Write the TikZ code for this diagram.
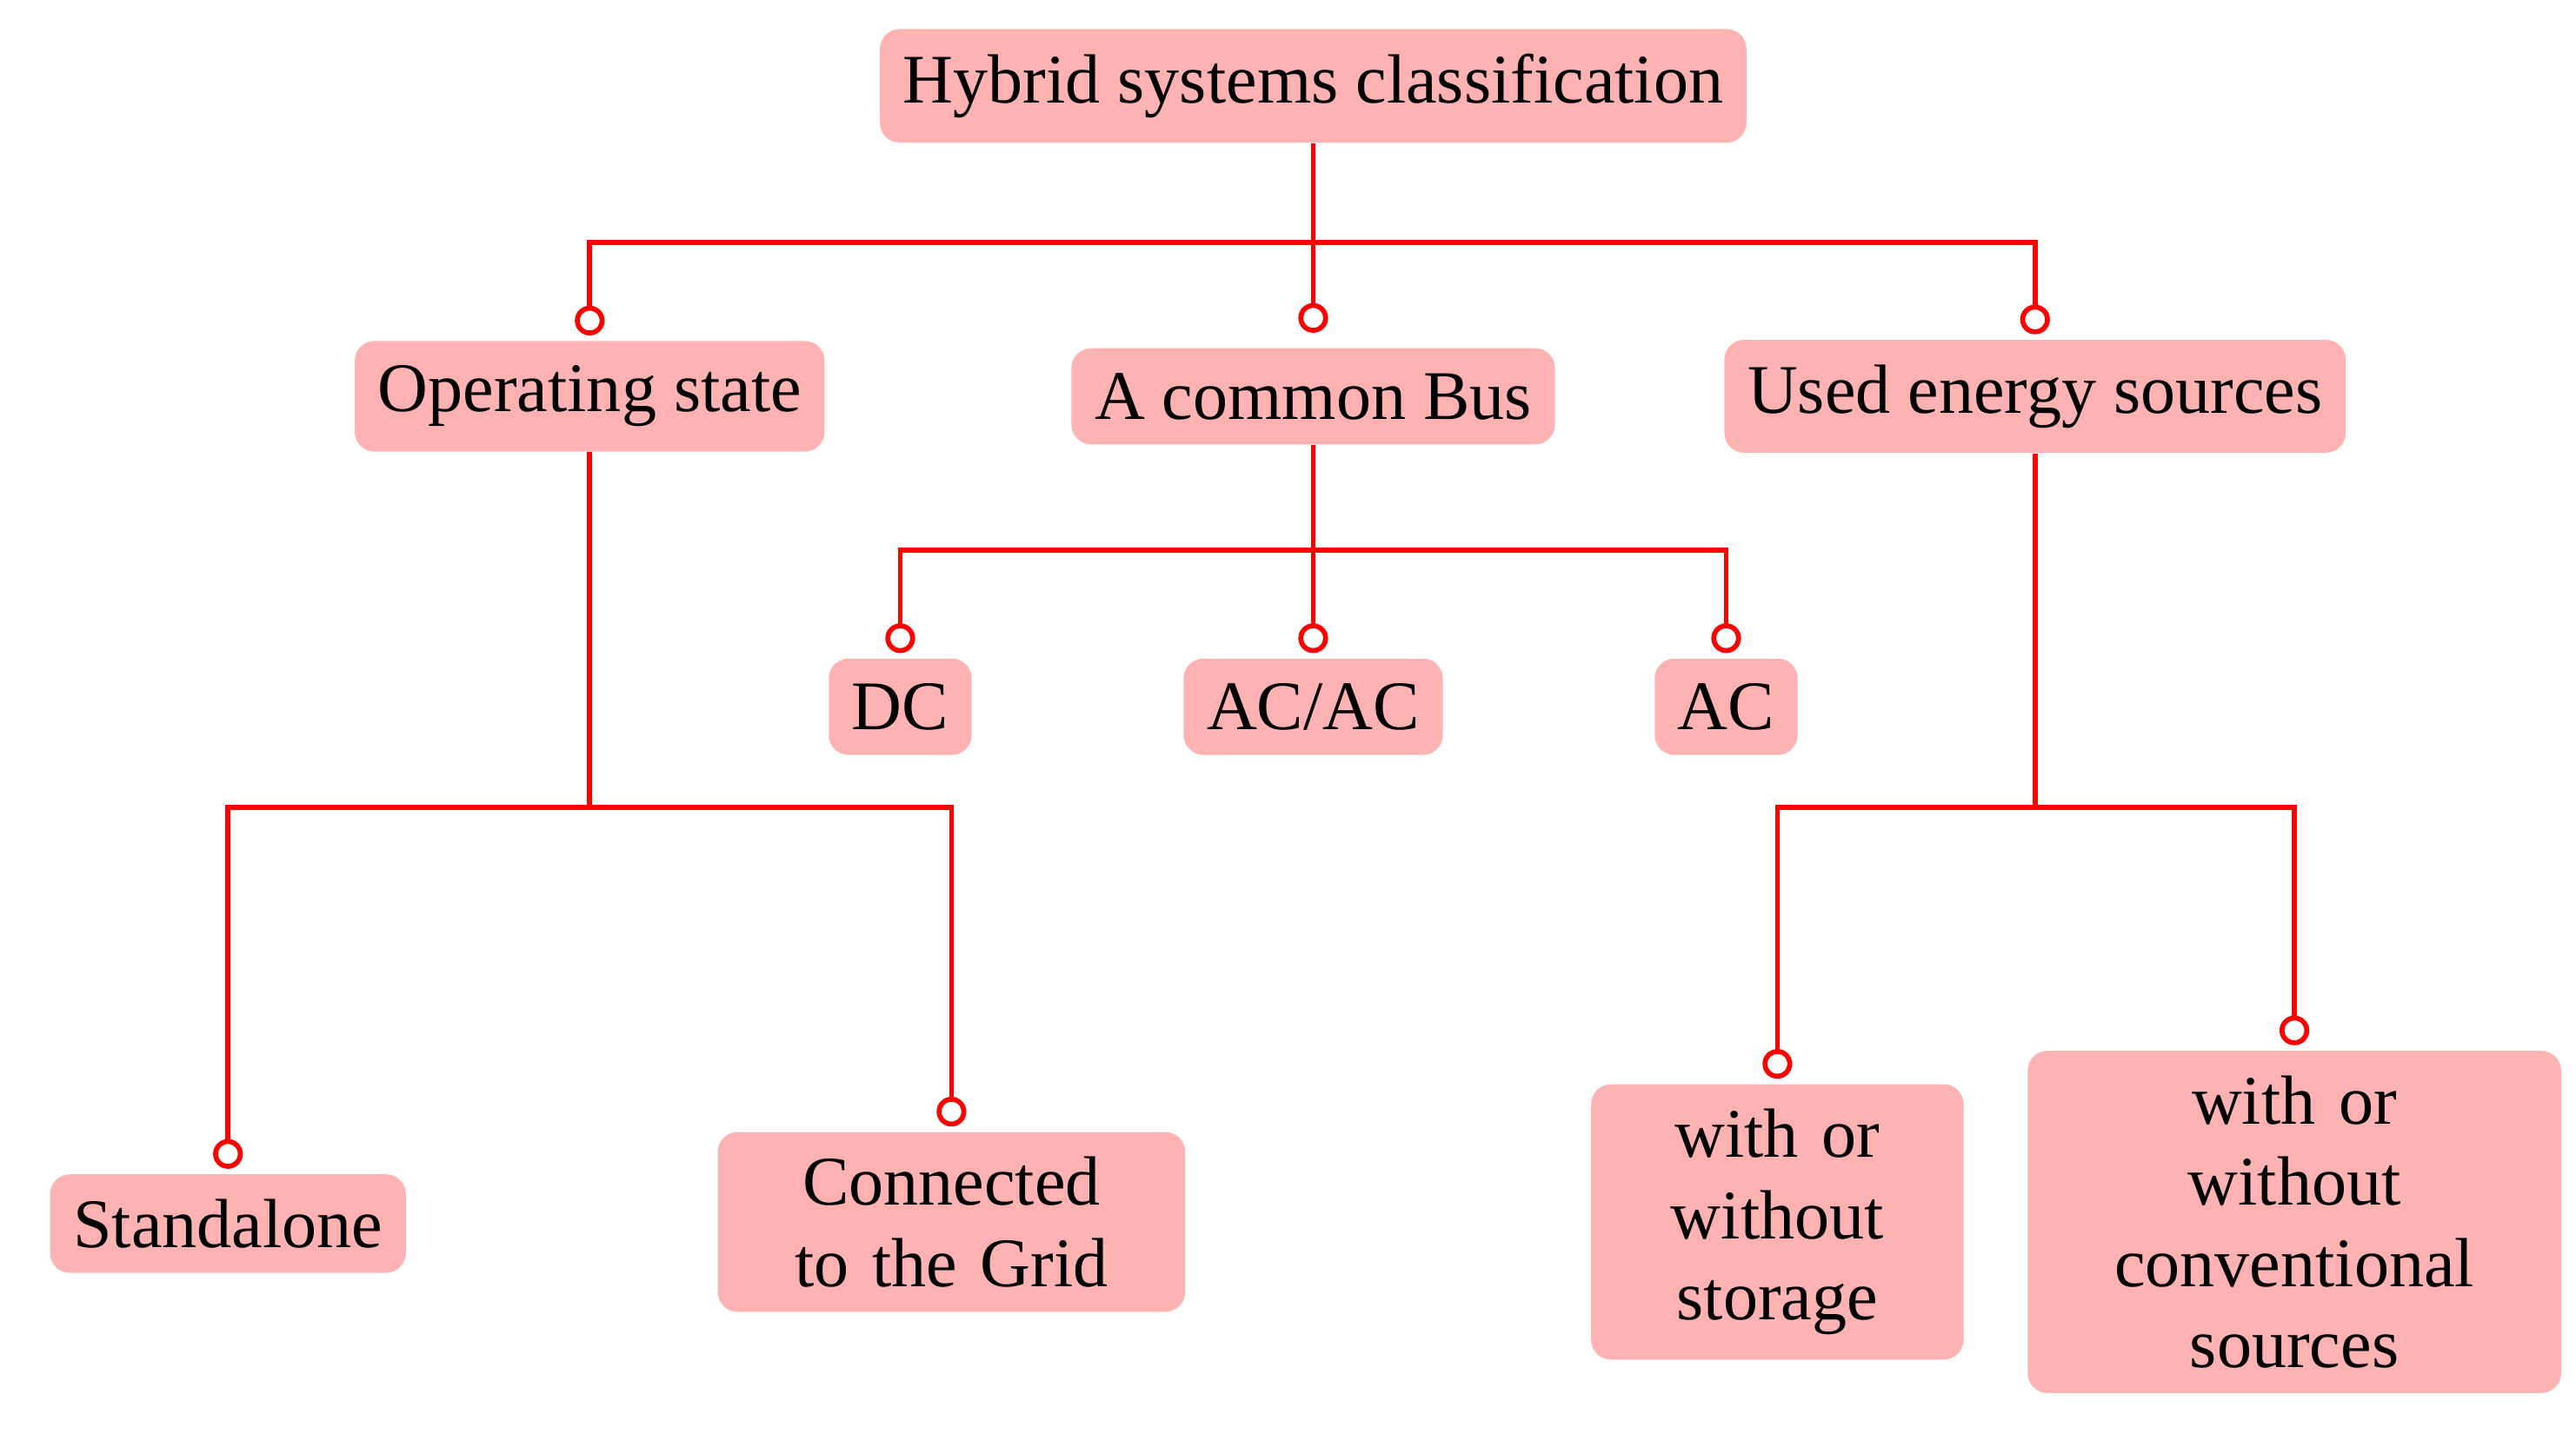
\documentclass[tikz,border=0pt]{standalone}
\usepackage{fontspec}
\setmainfont{Liberation Serif}
\usetikzlibrary{arrows.meta}

\tikzset{
  box/.style={draw=none, fill=red!30, rounded corners=0.24cm, align=center,
    inner xsep=0.28cm, inner ysep=0.3cm, font=\fontsize{24}{28}\selectfont},
  conn/.style={draw=red, line width=1.7pt, -{Circle[open, length=0.36cm, width=0.36cm, fill=white]}}
}

\begin{document}
\begin{tikzpicture}[x=0.02cm, y=-0.02cm]
  \useasboundingbox (0,0) rectangle (1559.5,868);

  \node[box] (root) at (795,52) {Hybrid systems classification};

  \node[box] (op)   at (357,240) {Operating state};
  \node[box] (bus)  at (795,240) {A common Bus};
  \node[box] (used) at (1232,240) {Used energy sources};

  \node[box] (dc)   at (545,428) {DC};
  \node[box] (acac) at (795,428) {AC/AC};
  \node[box] (ac)   at (1045,428) {AC};

  \node[box] (alone) at (138,741) {Standalone};
  \node[box, text width=5.1cm] (grid) at (576,740) {Connected\\to the Grid};
  \node[box, text width=3.95cm] (stor) at (1076,740) {with or\\without\\storage};
  \node[box, text width=5.9cm] (conv) at (1389,740) {with or\\without\\conventional\\sources};

  % level 1
  \draw[conn] (root.south) |- (357,147) -- ([yshift=0.06cm]op.north);
  \draw[conn] (root.south) -- ([yshift=0.18cm]bus.north);
  \draw[conn] (root.south) |- (1232,147) -- ([yshift=0.06cm]used.north);

  % bus
  \draw[conn] (bus.south) |- (545,333) -- ([yshift=0.06cm]dc.north);
  \draw[conn] (bus.south) -- ([yshift=0.06cm]acac.north);
  \draw[conn] (bus.south) |- (1045,333) -- ([yshift=0.06cm]ac.north);

  % operating state
  \draw[conn] (op.south) |- (138,489) -- ([yshift=0.06cm]alone.north);
  \draw[conn] (op.south) |- (576,489) -- ([yshift=0.06cm]grid.north);

  % energy sources
  \draw[conn] (used.south) |- (1076,489) -- ([yshift=0.06cm]stor.north);
  \draw[conn] (used.south) |- (1389,489) -- ([yshift=0.06cm]conv.north);
\end{tikzpicture}
\end{document}
